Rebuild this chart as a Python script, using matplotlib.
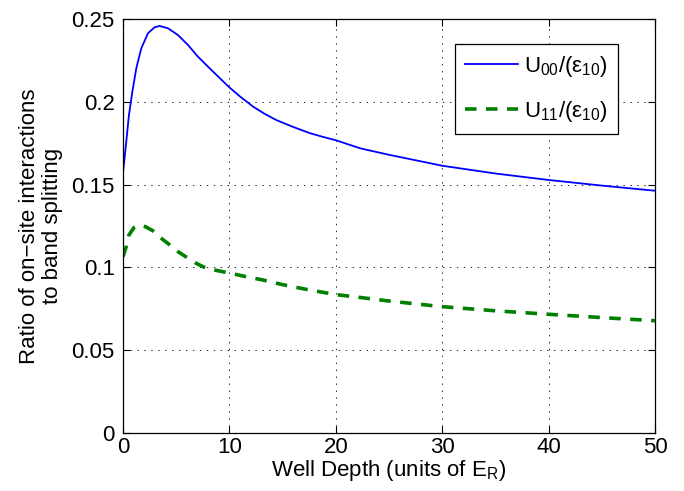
import matplotlib
matplotlib.use("Agg")
import matplotlib.pyplot as plt

plt.rcParams["font.family"] = ["Liberation Sans", "DejaVu Sans"]
plt.rcParams["mathtext.fontset"] = "custom"
plt.rcParams["mathtext.rm"] = "Liberation Sans"
plt.rcParams["mathtext.it"] = "Liberation Sans"
plt.rcParams["mathtext.default"] = "regular"
plt.rcParams["lines.scale_dashes"] = False

# U00 / eps10 (solid blue)
depth_u00 = [0, 0.31, 0.56, 0.88, 1.25, 1.72, 2.35, 2.97, 3.45, 4.23, 5.17, 6.11, 7.05,
             8.5, 10, 11, 12.25, 13.3, 14.4, 16, 17.6, 18.8, 20, 22.3, 25, 30, 35, 40, 45, 50]
ratio_u00 = [0.157, 0.176, 0.192, 0.2061, 0.2202, 0.2323, 0.2414, 0.245, 0.2458, 0.2444,
             0.2403, 0.2343, 0.2272, 0.218, 0.2087, 0.2032, 0.197, 0.1928, 0.189, 0.1848,
             0.181, 0.1788, 0.1768, 0.1719, 0.168, 0.1614, 0.1567, 0.1528, 0.1494, 0.1463]

# U11 / eps10 (dashed green)
depth_u11 = [0, 0.3, 0.56, 1.03, 1.6, 2.1, 2.79, 3.69, 4.32, 5.17, 5.89, 6.9, 7.6,
             8.7, 10, 11.5, 13, 15, 17.5, 20, 22.1, 25, 30, 35, 40, 45, 50]
ratio_u11 = [0.1065, 0.1125, 0.1196, 0.124, 0.1256, 0.1246, 0.1222, 0.1171, 0.114, 0.1095,
             0.1065, 0.1024, 0.1002, 0.0983, 0.0966, 0.0945, 0.0926, 0.0896, 0.0864,
             0.0836, 0.082, 0.0797, 0.0763, 0.0738, 0.0717, 0.0697, 0.0678]

x_ticks = [0, 10, 20, 30, 40, 50]
y_ticks = [0, 0.05, 0.1, 0.15, 0.2, 0.25]
y_tick_labels = ["0", "0.05", "0.1", "0.15", "0.2", "0.25"]

fig = plt.figure(figsize=(6.84, 4.91), dpi=100)
ax = fig.add_axes([0.1798, 0.1181, 0.7778, 0.8432])

ax.plot(depth_u00, ratio_u00, color="#0000FF", linewidth=1.3,
        label=r"U$_{00}$/(ε$_{10}$)")
ax.plot(depth_u11, ratio_u11, color="#008000", linewidth=2.6, dashes=(8.3, 6.8),
        label=r"U$_{11}$/(ε$_{10}$)")

ax.set_xlim(0, 50)
ax.set_ylim(0, 0.25)
ax.set_xticks(x_ticks)
ax.set_yticks(y_ticks)
ax.set_yticklabels(y_tick_labels)
ax.tick_params(direction="in", top=True, right=True, length=5, width=0.8,
               labelsize=16)
ax.tick_params(axis="x", pad=3)
ax.tick_params(axis="y", pad=6)
ax.grid(True, color="black", linestyle=(0, (1, 4)), linewidth=0.6)
for spine in ax.spines.values():
    spine.set_linewidth(0.9)

ax.set_xlabel(r"Well Depth (units of E$_R$)", fontsize=16, labelpad=0)
ax.set_ylabel("Ratio of on−site interactions\nto band splitting", fontsize=16,
              labelpad=6, linespacing=1.1)

leg = ax.legend(loc="upper left", bbox_to_anchor=(0.624, 0.94), fontsize=16,
                frameon=True, fancybox=False, framealpha=1, edgecolor="black",
                handlelength=2.4, handletextpad=0.27, labelspacing=0.9,
                borderpad=0.45, borderaxespad=0)
leg.get_frame().set_linewidth(0.9)

fig.savefig("out.png", dpi=100, facecolor="white")
